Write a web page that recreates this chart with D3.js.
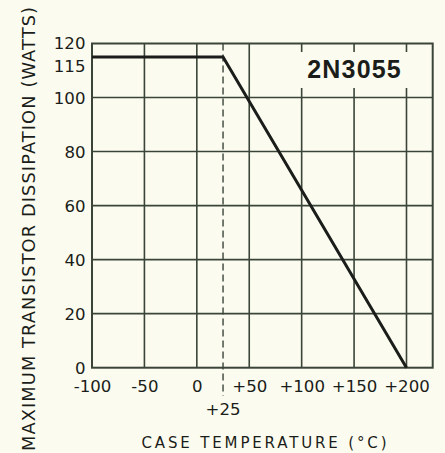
<!DOCTYPE html>
<html>
<head>
<meta charset="utf-8">
<script src="https://cdn.jsdelivr.net/npm/d3@7"></script>
<style>
  html, body { margin: 0; padding: 0; background: #fbfcef; }
  svg { display: block; font-family: "DejaVu Sans", Arial, Helvetica, sans-serif; }
</style>
</head>
<body>
<svg id="chart" width="445" height="453"></svg>
<script>
// Power derating curve for the 2N3055
const curveTemps = [-100, 25, 200];      // case temperature, °C
const curveWatts = [115, 115, 0];        // max dissipation, W
const xTickValues = [-100, -50, 0, 50, 100, 150, 200];
const xTickLabels = ["-100", "-50", "0", "+50", "+100", "+150", "+200"];
const yTickValues = [0, 20, 40, 60, 80, 100, 115, 120];
const yGridValues = [20, 40, 60, 80, 100];
const kneeTemp = 25;
const kneeLabel = "+25";
const deviceName = "2N3055";
const xTitle = "CASE TEMPERATURE (°C)";
const yTitle = "MAXIMUM TRANSISTOR DISSIPATION (WATTS)";

const svg = d3.select("#chart");
const plotL = 92, plotR = 432.7, plotT = 43.5, plotB = 367.7;
const labelFont = "DejaVu Sans, Arial, sans-serif";

const x = d3.scaleLinear().domain([-100, 225]).range([plotL, plotR]);
const y = d3.scaleLinear().domain([0, 120]).range([plotB, plotT]);

const gridColor = "#3b4439";
const inkColor = "#1b1d1a";

// vertical grid lines
svg.append("g").selectAll("line")
  .data(xTickValues.slice(1))
  .join("line")
  .attr("x1", d => x(d)).attr("x2", d => x(d))
  .attr("y1", plotT).attr("y2", plotB)
  .attr("stroke", gridColor).attr("stroke-width", 1.6);

// horizontal grid lines
svg.append("g").selectAll("line")
  .data(yGridValues)
  .join("line")
  .attr("x1", plotL).attr("x2", plotR)
  .attr("y1", d => y(d)).attr("y2", d => y(d))
  .attr("stroke", gridColor).attr("stroke-width", 1.6);

// frame
svg.append("rect")
  .attr("x", plotL).attr("y", plotT)
  .attr("width", plotR - plotL).attr("height", plotB - plotT)
  .attr("fill", "none").attr("stroke", gridColor).attr("stroke-width", 2);

// device name with a background patch over the grid
svg.append("rect")
  .attr("x", 296).attr("y", 52).attr("width", 120).attr("height", 36)
  .attr("fill", "#fbfcef");
svg.append("text")
  .attr("x", x(150) + 0.5).attr("y", 77.5)
  .attr("text-anchor", "middle")
  .attr("font-family", "Liberation Sans, Arial, sans-serif")
  .attr("font-size", 25).attr("font-weight", "bold")
  .attr("letter-spacing", 1.2)
  .attr("fill", inkColor)
  .text(deviceName);

// dashed marker at the derating knee
svg.append("line")
  .attr("x1", x(kneeTemp)).attr("x2", x(kneeTemp))
  .attr("y1", plotT).attr("y2", 396)
  .attr("stroke", gridColor).attr("stroke-width", 1.4)
  .attr("stroke-dasharray", "7,4");

// derating curve
const pts = curveTemps.map((t, i) => [t, curveWatts[i]]);
svg.append("path")
  .datum(pts)
  .attr("d", d3.line().x(d => x(d[0])).y(d => y(d[1])))
  .attr("fill", "none").attr("stroke", inkColor)
  .attr("stroke-width", 3).attr("stroke-linejoin", "miter");

// x axis labels
const xAxis = d3.axisBottom(x)
  .tickValues(xTickValues)
  .tickFormat((d, i) => xTickLabels[i])
  .tickSize(0).tickPadding(0);
const gx = svg.append("g").attr("transform", `translate(0,${plotB})`).call(xAxis);
gx.select(".domain").remove();
gx.selectAll("text")
  .attr("y", 24).attr("dy", 0)
  .attr("font-size", 16.6).attr("fill", inkColor)
  .attr("font-family", labelFont);

svg.append("text")
  .attr("x", x(kneeTemp)).attr("y", 415)
  .attr("text-anchor", "middle")
  .attr("font-size", 16.6).attr("fill", inkColor)
  .text(kneeLabel);

// y axis labels; the 115 label sits just under its line to clear 120
const yAxis = d3.axisLeft(y)
  .tickValues(yTickValues)
  .tickFormat(d3.format("d"))
  .tickSize(0).tickPadding(0);
const gy = svg.append("g").attr("transform", `translate(${plotL - 6.5},0)`).call(yAxis);
gy.select(".domain").remove();
gy.selectAll("text")
  .attr("x", 0)
  .attr("dy", d => d === 115 ? "0.9em" : (d === 120 ? "0.3em" : "0.36em"))
  .attr("font-size", 16.6).attr("fill", inkColor)
  .attr("font-family", labelFont);

// axis titles
svg.append("text")
  .attr("x", 264).attr("y", 448)
  .attr("text-anchor", "middle")
  .attr("font-size", 15).attr("fill", inkColor)
  .attr("textLength", 245).attr("lengthAdjust", "spacing")
  .text(xTitle);

svg.append("text")
  .attr("transform", "translate(35,229) rotate(-90)")
  .attr("text-anchor", "middle")
  .attr("font-size", 17.8).attr("fill", inkColor)
  .attr("textLength", 444).attr("lengthAdjust", "spacing")
  .text(yTitle);
</script>
</body>
</html>
